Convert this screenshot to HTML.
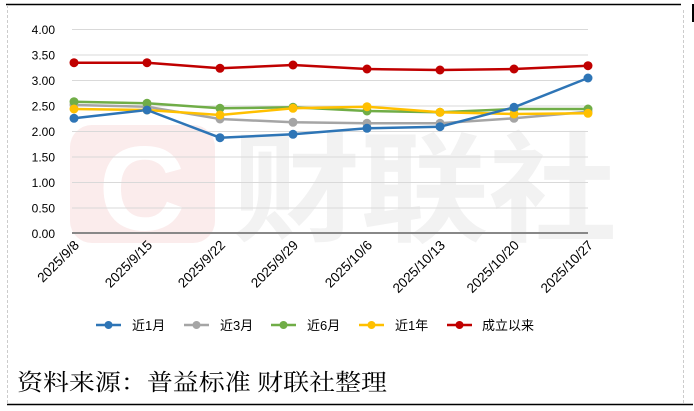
<!DOCTYPE html>
<html><head><meta charset="utf-8"><style>
html,body{margin:0;padding:0;background:#fff;}
svg{display:block;}
</style></head><body>
<svg width="694" height="411" viewBox="0 0 694 411" xmlns="http://www.w3.org/2000/svg" font-family="'Liberation Sans','Noto Sans CJK SC',sans-serif">
<rect width="694" height="411" fill="#fff"/>
<line x1="6" y1="4.5" x2="681" y2="4.5" stroke="#000" stroke-width="1.5"/>
<line x1="693" y1="4" x2="693" y2="22" stroke="#000" stroke-width="2"/>
<line x1="7.5" y1="5" x2="7.5" y2="404" stroke="#ccc" stroke-dasharray="3,2"/>
<line x1="683.5" y1="10" x2="683.5" y2="404" stroke="#ccc" stroke-dasharray="3,2"/>
<line x1="7" y1="404.5" x2="693" y2="404.5" stroke="#000" stroke-width="1.5"/>
<!-- watermark -->
<rect x="70" y="125" width="145" height="118" rx="22" fill="#fbecec"/>
<text x="142" y="230" font-size="120" font-weight="bold" fill="#fff" text-anchor="middle">C</text>
<text x="232" y="232" font-size="120" font-weight="bold" fill="#f2f2f2" textLength="385" lengthAdjust="spacingAndGlyphs" font-family="'Noto Sans CJK SC',sans-serif">财联社</text>
<!-- grid -->
<g stroke="#d9d9d9" stroke-width="1">
<line x1="72" y1="29.5" x2="588" y2="29.5"/><line x1="72" y1="55" x2="588" y2="55"/>
<line x1="72" y1="80.5" x2="588" y2="80.5"/><line x1="72" y1="106" x2="588" y2="106"/>
<line x1="72" y1="131.5" x2="588" y2="131.5"/><line x1="72" y1="157" x2="588" y2="157"/>
<line x1="72" y1="182.5" x2="588" y2="182.5"/><line x1="72" y1="208" x2="588" y2="208"/>
</g>
<line x1="72" y1="233" x2="588" y2="233" stroke="#888" stroke-width="2"/>
<g font-size="12" fill="#000" text-anchor="end">
<text x="55" y="34">4.00</text><text x="55" y="59.5">3.50</text><text x="55" y="85">3.00</text>
<text x="55" y="110.5">2.50</text><text x="55" y="136">2.00</text><text x="55" y="161.5">1.50</text>
<text x="55" y="187">1.00</text><text x="55" y="212.5">0.50</text><text x="55" y="238">0.00</text>
</g>
<g font-size="13.5" fill="#000" text-anchor="end">
<text transform="translate(80,246) rotate(-45)">2025/9/8</text>
<text transform="translate(153,246) rotate(-45)">2025/9/15</text>
<text transform="translate(226,246) rotate(-45)">2025/9/22</text>
<text transform="translate(299,246) rotate(-45)">2025/9/29</text>
<text transform="translate(373,246) rotate(-45)">2025/10/6</text>
<text transform="translate(446,246) rotate(-45)">2025/10/13</text>
<text transform="translate(520,246) rotate(-45)">2025/10/20</text>
<text transform="translate(594,246) rotate(-45)">2025/10/27</text>
</g>
<g fill="none" stroke-width="2.5">
<polyline stroke="#a5a5a5" points="74,105 147,106.7 220,119 293,122.3 367,123.3 440,123.3 514,118.3 588,111.7"/>
<polyline stroke="#70ad47" points="74,101.7 147,103.3 220,108.3 293,107.3 367,111 440,112.3 514,109 588,109"/>
<polyline stroke="#ffc000" points="74,109 147,110 220,115 293,108.3 367,106.7 440,112.3 514,114 588,113.3"/>
<polyline stroke="#2e75b6" points="74,118.3 147,110 220,137.7 293,134.3 367,128.3 440,126.7 514,107.3 588,78"/>
<polyline stroke="#c00000" points="74,62.7 147,62.7 220,68.3 293,65 367,69 440,70 514,69 588,65.7"/>
</g>
<g fill="#a5a5a5"><circle cx="74" cy="105" r="4.5"/><circle cx="147" cy="106.7" r="4.5"/><circle cx="220" cy="119" r="4.5"/><circle cx="293" cy="122.3" r="4.5"/><circle cx="367" cy="123.3" r="4.5"/><circle cx="440" cy="123.3" r="4.5"/><circle cx="514" cy="118.3" r="4.5"/><circle cx="588" cy="111.7" r="4.5"/></g>
<g fill="#70ad47"><circle cx="74" cy="101.7" r="4.5"/><circle cx="147" cy="103.3" r="4.5"/><circle cx="220" cy="108.3" r="4.5"/><circle cx="293" cy="107.3" r="4.5"/><circle cx="367" cy="111" r="4.5"/><circle cx="440" cy="112.3" r="4.5"/><circle cx="514" cy="109" r="4.5"/><circle cx="588" cy="109" r="4.5"/></g>
<g fill="#ffc000"><circle cx="74" cy="109" r="4.5"/><circle cx="147" cy="110" r="4.5"/><circle cx="220" cy="115" r="4.5"/><circle cx="293" cy="108.3" r="4.5"/><circle cx="367" cy="106.7" r="4.5"/><circle cx="440" cy="112.3" r="4.5"/><circle cx="514" cy="114" r="4.5"/><circle cx="588" cy="113.3" r="4.5"/></g>
<g fill="#2e75b6"><circle cx="74" cy="118.3" r="4.5"/><circle cx="147" cy="110" r="4.5"/><circle cx="220" cy="137.7" r="4.5"/><circle cx="293" cy="134.3" r="4.5"/><circle cx="367" cy="128.3" r="4.5"/><circle cx="440" cy="126.7" r="4.5"/><circle cx="514" cy="107.3" r="4.5"/><circle cx="588" cy="78" r="4.5"/></g>
<g fill="#c00000"><circle cx="74" cy="62.7" r="4.5"/><circle cx="147" cy="62.7" r="4.5"/><circle cx="220" cy="68.3" r="4.5"/><circle cx="293" cy="65" r="4.5"/><circle cx="367" cy="69" r="4.5"/><circle cx="440" cy="70" r="4.5"/><circle cx="514" cy="69" r="4.5"/><circle cx="588" cy="65.7" r="4.5"/></g>
<!-- legend -->
<g stroke-width="2.5">
<line x1="96" y1="325" x2="121" y2="325" stroke="#2e75b6"/><circle cx="108.5" cy="325" r="4" fill="#2e75b6"/>
<line x1="184" y1="325" x2="209" y2="325" stroke="#a5a5a5"/><circle cx="196.5" cy="325" r="4" fill="#a5a5a5"/>
<line x1="271" y1="325" x2="296" y2="325" stroke="#70ad47"/><circle cx="283.5" cy="325" r="4" fill="#70ad47"/>
<line x1="359" y1="325" x2="384" y2="325" stroke="#ffc000"/><circle cx="371.5" cy="325" r="4" fill="#ffc000"/>
<line x1="447" y1="325" x2="472" y2="325" stroke="#c00000"/><circle cx="459.5" cy="325" r="4" fill="#c00000"/>
</g>
<g font-size="13" fill="#000">
<text x="132" y="330">近1月</text><text x="220" y="330">近3月</text><text x="307" y="330">近6月</text>
<text x="395" y="330">近1年</text><text x="482" y="330">成立以来</text>
</g>
<text x="17" y="390" font-size="23" fill="#000" textLength="370" lengthAdjust="spacingAndGlyphs" font-family="'Liberation Serif','Noto Serif CJK SC',serif">资料来源：普益标准 财联社整理</text>
</svg>
</body></html>
